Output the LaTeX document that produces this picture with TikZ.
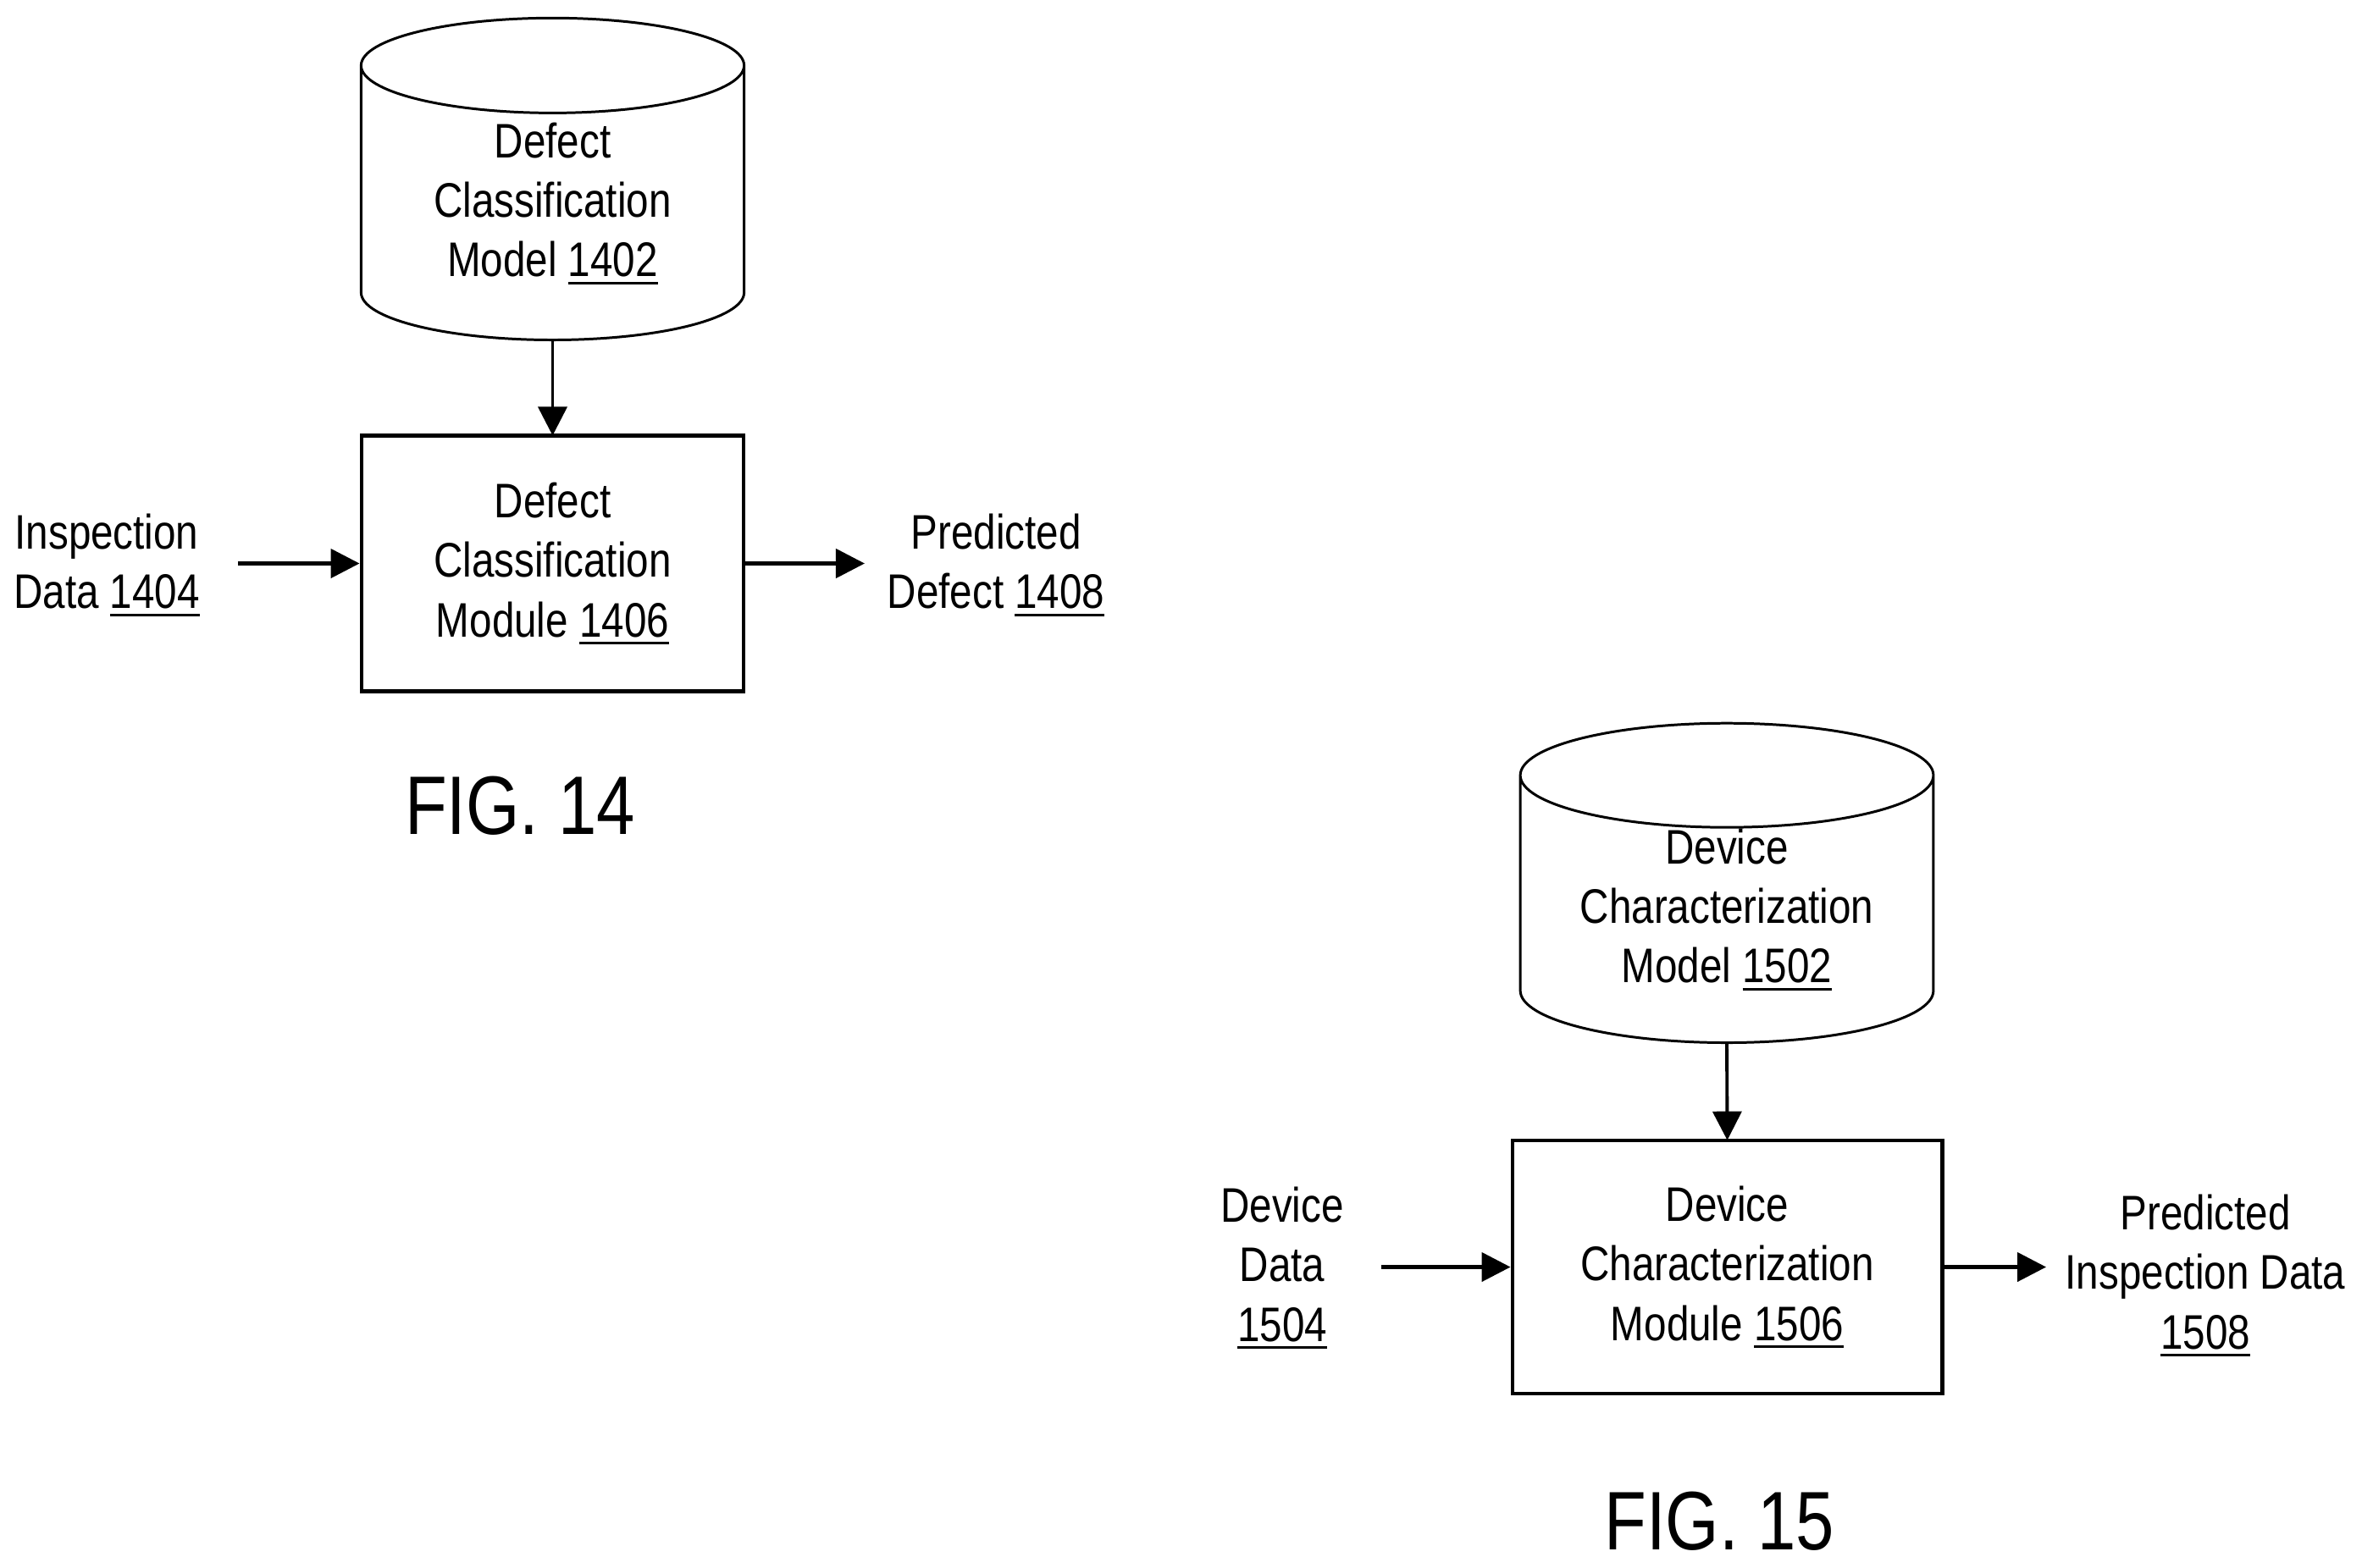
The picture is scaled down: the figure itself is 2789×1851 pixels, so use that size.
\documentclass[tikz,border=0pt]{standalone}
\usepackage{fontspec}
\setmainfont{Liberation Sans}[FakeStretch=0.83]
\usetikzlibrary{arrows.meta,shapes.geometric}
\newcommand{\refnum}[1]{\setbox0\hbox{#1}\rlap{\rule[-2.6pt]{\wd0}{0.8pt}}\box0}
\begin{document}
\begin{tikzpicture}[
  x=0.01cm, y=-0.01cm,
  every node/.style={font=\fontsize{16.3}{20}\selectfont, align=center, inner sep=0pt},
  modelbox/.style={draw, line width=0.85pt, cylinder, shape border rotate=90, shape aspect=0.355, anchor=south},
  modulebox/.style={draw, line width=1.33pt, rectangle},
  figlabel/.style={font=\fontsize{27.9}{30}\selectfont},
  thinarrow/.style={draw, line width=1.1pt, shorten >=-0.6pt, -{Triangle[length=3.4mm,width=3.4mm]}},
  flowarrow/.style={draw, line width=1.3pt, -{Triangle[length=3.4mm,width=3.4mm]}}
]
\useasboundingbox (0,0) rectangle (2789,1851);

% Fig 14
\node[modelbox, shape aspect=0.4, minimum width=4.52cm, minimum height=3.8cm] (model14) at (652.5,403) {Defect\\Classification\\Model \refnum{1402}};
\node[modulebox, minimum width=4.51cm, minimum height=3.015cm] (module14) at (652.5,665.5) {Defect\\Classification\\Module \refnum{1406}};
\node (input14) at (126,667) {Inspection\\Data \refnum{1404}};
\node (output14) at (1176,667) {Predicted\\Defect \refnum{1408}};
\node[figlabel] (fig14) at (614,952) {FIG. 14};
\coordinate (instart14) at (281,665.5);
\coordinate (outend14) at (1021,665.5);

\draw[thinarrow] (model14.south) -- (module14.north);
\draw[flowarrow] (instart14) -- (module14.west);
\draw[flowarrow] (module14.east) -- (outend14);

% Fig 15
\node[modelbox, minimum width=4.875cm, minimum height=3.2cm] (model15) at (2039,1233) {Device\\Characterization\\Model \refnum{1502}};
\node[modulebox, minimum width=5.07cm, minimum height=2.99cm] (module15) at (2039.5,1496.5) {Device\\Characterization\\Module \refnum{1506}};
\node (input15) at (1514,1497.5) {Device\\Data\\\refnum{1504}};
\node (output15) at (2604,1506.5) {Predicted\\Inspection Data\\\refnum{1508}};
\node[figlabel] (fig15) at (2030,1797) {FIG. 15};
\coordinate (instart15) at (1631,1496.5);
\coordinate (outend15) at (2416,1496.5);

\draw[thinarrow] (model15.south) -- (module15.north);
\draw[flowarrow] (instart15) -- (module15.west);
\draw[flowarrow] (module15.east) -- (outend15);

\end{tikzpicture}
\end{document}
